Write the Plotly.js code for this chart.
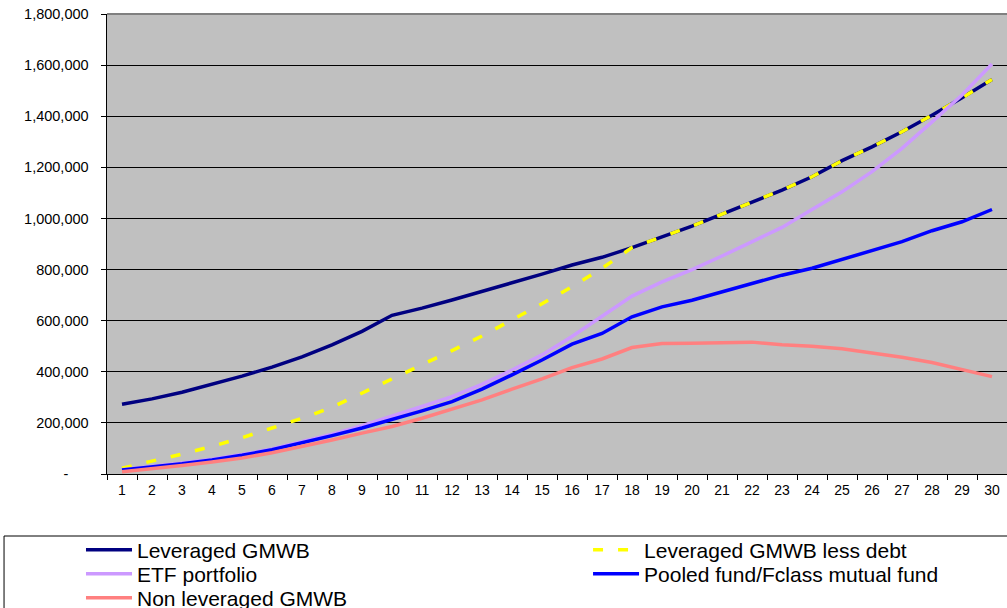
<!DOCTYPE html>
<html>
<head>
<meta charset="utf-8">
<script src="https://cdn.plot.ly/plotly-3.0.1.min.js"></script>
<style>html,body{margin:0;padding:0;background:#fff;}#chart{width:1007px;height:608px;}</style>
</head>
<body>
<div id="chart"></div>
<script>
var years = ['1','2','3','4','5','6','7','8','9','10','11','12','13','14','15','16','17','18','19','20','21','22','23','24','25','26','27','28','29','30'];

var leveragedGMWB = [273000,294000,320000,350000,383000,418000,458000,505000,558000,621000,649000,681000,714000,747000,782000,818000,848000,886000,928000,970000,1017000,1063000,1111000,1163000,1226000,1280000,1339000,1404000,1472000,1544000];
var leveragedLessDebt = [23000,50000,78000,108000,142000,180000,218000,261000,316000,372000,426000,483000,540000,603000,666000,733000,805000,886000,928000,970000,1017000,1063000,1111000,1163000,1226000,1280000,1339000,1404000,1472000,1544000];
var etfPortfolio = [17000,29000,43000,58000,76000,98000,126000,156000,189000,225000,264000,303000,351000,407000,466000,538000,615000,696000,752000,800000,853000,909000,965000,1035000,1104000,1183000,1274000,1378000,1483000,1604000];
var pooledFund = [16000,27000,40000,55000,73000,95000,122000,150000,180000,212000,247000,283000,332000,388000,446000,508000,550000,615000,654000,680000,713000,748000,778000,805000,840000,874000,909000,952000,987000,1035000];
var nonLeveragedGMWB = [9000,20000,33000,47000,63000,83000,107000,133000,160000,186000,218000,253000,290000,332000,372000,416000,450000,495000,511000,512000,513000,516000,506000,500000,490000,475000,457000,436000,407000,381000];

var yTickVals = [0,200000,400000,600000,800000,1000000,1200000,1400000,1600000,1800000];
var yTickText = ['-\u00a0\u00a0\u00a0\u00a0\u00a0','200,000','400,000','600,000','800,000','1,000,000','1,200,000','1,400,000','1,600,000','1,800,000'];

var seriesNames = ['Leveraged GMWB','Leveraged GMWB less debt','ETF portfolio','Pooled fund/Fclass mutual fund','Non leveraged GMWB'];

var FONT = 'Liberation Sans, Arial, sans-serif';

var traces = [
  {x: years, y: leveragedGMWB, name: seriesNames[0], type: 'scatter', mode: 'lines',
   line: {color: '#000080', width: 3.5}, legend: 'legend'},
  {x: years, y: leveragedLessDebt, name: seriesNames[1], type: 'scatter', mode: 'lines',
   line: {color: '#FFFF00', width: 3.5, dash: '10px,15px'}, legend: 'legend4'},
  {x: years, y: etfPortfolio, name: seriesNames[2], type: 'scatter', mode: 'lines',
   line: {color: '#CC99FF', width: 3.5}, legend: 'legend2'},
  {x: years, y: pooledFund, name: seriesNames[3], type: 'scatter', mode: 'lines',
   line: {color: '#0000FF', width: 3.5}, legend: 'legend5'},
  {x: years, y: nonLeveragedGMWB, name: seriesNames[4], type: 'scatter', mode: 'lines',
   line: {color: '#FF8080', width: 3.5}, legend: 'legend3'}
];

function leg(x, y) {
  return {x: x, y: y, xanchor: 'left', yanchor: 'middle', orientation: 'v',
    bgcolor: 'rgba(0,0,0,0)', borderwidth: 0, itemwidth: 46,
    font: {family: FONT, size: 21, color: '#000'}};
}

var layout = {
  width: 1007, height: 608,
  margin: {l: 107, r: 0, t: 14, b: 134, autoexpand: false},
  paper_bgcolor: '#ffffff',
  plot_bgcolor: '#C0C0C0',
  font: {family: FONT, size: 14, color: '#000'},
  showlegend: true,
  xaxis: {
    type: 'category', range: [-0.5, 29.5], tickson: 'boundaries', ticks: 'outside', ticklen: 5, tickcolor: '#000',
    ticklabelstandoff: 3,
    showgrid: false, showline: true, linecolor: '#000', linewidth: 1, zeroline: false,
    tickfont: {family: FONT, size: 14, color: '#000'}, fixedrange: true
  },
  yaxis: {
    range: [0, 1800000], tickvals: yTickVals, ticktext: yTickText,
    ticks: 'outside', ticklen: 5, tickcolor: '#000', ticklabelstandoff: 9,
    showgrid: true, gridcolor: '#000', gridwidth: 1, zeroline: false,
    showline: true, linecolor: '#000', linewidth: 1.5,
    tickfont: {family: FONT, size: 14.5, color: '#000'}, fixedrange: true
  },
  legend: leg(-0.0289, -0.1652),
  legend2: leg(-0.0289, -0.2174),
  legend3: leg(-0.0289, -0.2696),
  legend4: leg(0.5345, -0.1652),
  legend5: leg(0.5345, -0.2174),
  shapes: [
    {type: 'line', xref: 'paper', yref: 'paper', x0: 0, x1: 1, y0: 1, y1: 1,
     line: {color: '#808080', width: 2}},
    {type: 'rect', xref: 'paper', yref: 'paper', x0: -0.1144, x1: 1.01, y0: -0.1348, y1: -0.31,
     line: {color: '#000', width: 1}, fillcolor: 'rgba(0,0,0,0)'}
  ]
};

Plotly.newPlot('chart', traces, layout, {displayModeBar: false, staticPlot: true});
</script>
</body>
</html>
